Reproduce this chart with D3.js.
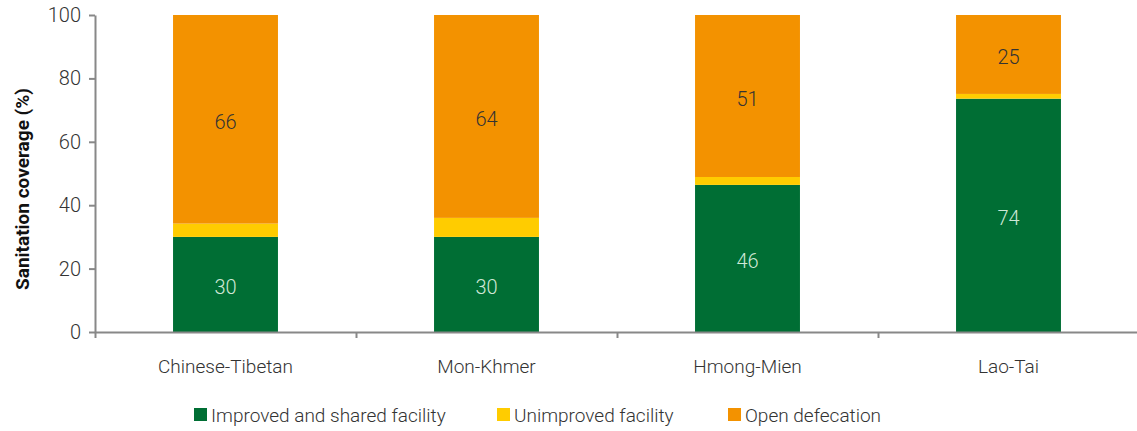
<!doctype html>
<html>
<head>
<script src="https://d3js.org/d3.v7.min.js"></script>
<style>
  body { margin: 0; background: #fff; }
  text { font-family: Roboto, sans-serif; }
</style>
</head>
<body>
<svg width="1137" height="431"></svg>
<script>
// data
var groups = ["Chinese-Tibetan", "Mon-Khmer", "Hmong-Mien", "Lao-Tai"];
var improved = [30, 30, 46.4, 73.6];
var unimproved = [4.2, 6, 2.5, 1.5];
var openDef = [65.8, 64, 51.1, 24.9];
var seriesNames = ["Improved and shared facility", "Unimproved facility", "Open defecation"];
var yTicks = [0, 20, 40, 60, 80, 100];

var colors = ["#006e34", "#ffcc00", "#f39200"];
var labelColors = ["#cfe8d6", null, "#333333"];

var svg = d3.select("svg");
var plotLeft = 95, plotRight = 1139, plotTop = 15, plotBottom = 332;

var rows = groups.map(function (g, i) {
  return { group: g, s0: improved[i], s1: unimproved[i], s2: openDef[i] };
});
var layers = d3.stack().keys(["s0", "s1", "s2"])(rows);

var x = d3.scaleBand().domain(groups).range([plotLeft, plotRight])
  .paddingInner(0.598).paddingOuter(0.299);
var y = d3.scaleLinear().domain([0, 100]).range([plotBottom, plotTop]);

// bars
var layerG = svg.selectAll("g.layer")
  .data(layers)
  .enter().append("g")
  .attr("class", "layer")
  .attr("fill", function (d, i) { return colors[i]; });

layerG.selectAll("rect")
  .data(function (d) { return d; })
  .enter().append("rect")
  .attr("x", function (d) { return x(d.data.group); })
  .attr("width", x.bandwidth())
  .attr("y", function (d) { return y(d[1]); })
  .attr("height", function (d) { return y(d[0]) - y(d[1]); });

// value labels
layers.forEach(function (layer, li) {
  if (!labelColors[li]) return;
  svg.append("g").selectAll("text")
    .data(layer)
    .enter().append("text")
    .attr("x", function (d) { return x(d.data.group) + x.bandwidth() / 2; })
    .attr("y", function (d) { return (y(d[0]) + y(d[1])) / 2 + 10; })
    .attr("text-anchor", "middle")
    .attr("font-size", 20)
    .attr("font-weight", 300)
    .attr("fill", labelColors[li])
    .text(function (d) { return Math.round(d[1] - d[0]); });
});

// y axis
var yAxis = svg.append("g")
  .attr("transform", "translate(" + plotLeft + ",0)")
  .call(d3.axisLeft(y).tickValues(yTicks).tickSize(6).tickPadding(8).tickSizeOuter(0));
yAxis.selectAll("text").attr("font-size", 20).attr("font-weight", 300).attr("fill", "#333")
  .attr("font-family", "Roboto, sans-serif");

// x axis: boundary ticks
var xb = d3.scaleLinear().domain([0, groups.length]).range([plotLeft, plotRight]);
svg.append("g")
  .attr("transform", "translate(0," + plotBottom + ")")
  .call(d3.axisBottom(xb).tickValues(d3.range(groups.length + 1)).tickSize(6).tickSizeOuter(0).tickFormat(""));

// category labels
var xl = svg.append("g")
  .attr("transform", "translate(0," + plotBottom + ")")
  .call(d3.axisBottom(x).tickSize(0).tickPadding(28));
xl.select(".domain").remove();
xl.selectAll("text").attr("font-size", 19).attr("font-weight", 300).attr("fill", "#333")
  .attr("font-family", "Roboto, sans-serif");

svg.selectAll(".domain, .tick line").attr("stroke", "#888").attr("stroke-width", 2);

// y title
svg.append("text")
  .attr("transform", "translate(29,189)rotate(-90)")
  .attr("text-anchor", "middle")
  .attr("font-size", 19)
  .attr("font-weight", 700)
  .attr("fill", "#111")
  .text("Sanitation coverage (%)");

// legend
var legendX = [194, 497, 728];
var legend = svg.append("g").selectAll("g")
  .data(seriesNames)
  .enter().append("g")
  .attr("transform", function (d, i) { return "translate(" + legendX[i] + ",408)"; });
legend.append("rect")
  .attr("width", 13).attr("height", 13)
  .attr("fill", function (d, i) { return colors[i]; });
legend.append("text")
  .attr("x", 17).attr("y", 14)
  .attr("font-size", 19)
  .attr("font-weight", 300)
  .attr("fill", "#333")
  .text(function (d) { return d; });
</script>
</body>
</html>
